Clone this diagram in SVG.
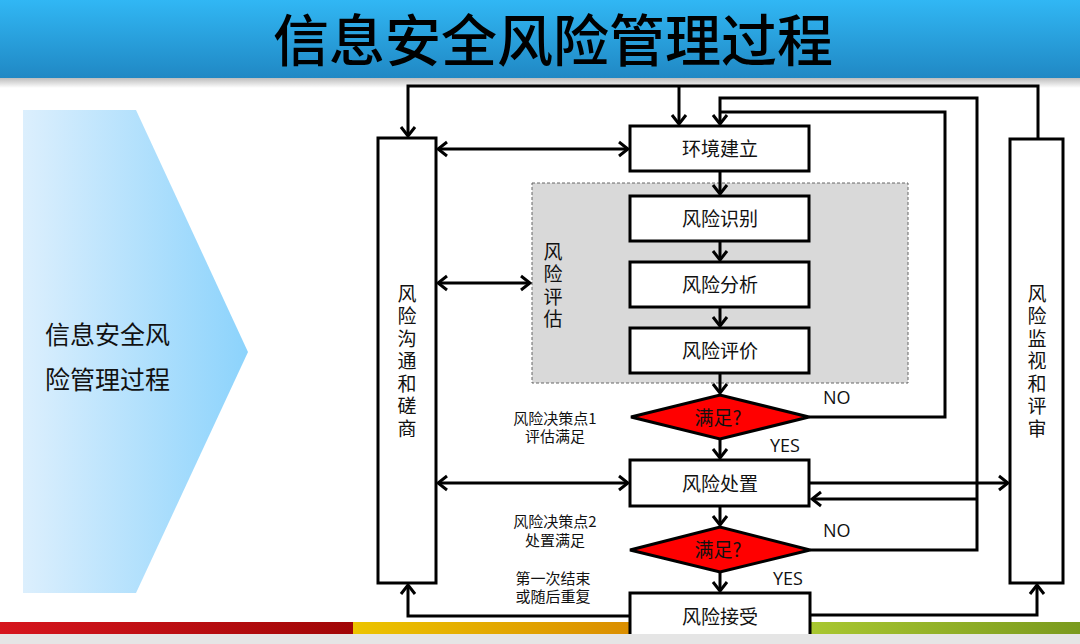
<svg xmlns="http://www.w3.org/2000/svg" width="1080" height="644" viewBox="0 0 1080 644">
<defs>
<linearGradient id="gTitle" x1="0" y1="0" x2="0" y2="1"><stop offset="0" stop-color="#31b7f4"/><stop offset="1" stop-color="#2088c4"/></linearGradient>
<linearGradient id="gShadow" x1="0" y1="0" x2="0" y2="1"><stop offset="0" stop-color="#bdbdbd"/><stop offset="1" stop-color="#ffffff"/></linearGradient>
<linearGradient id="gChev" x1="0" y1="0" x2="1" y2="0"><stop offset="0" stop-color="#dceffd"/><stop offset="1" stop-color="#8cd3fc"/></linearGradient>
<linearGradient id="gRed" x1="0" y1="0" x2="1" y2="0"><stop offset="0" stop-color="#d6151d"/><stop offset="1" stop-color="#a00606"/></linearGradient>
<linearGradient id="gOrange" x1="0" y1="0" x2="1" y2="0"><stop offset="0" stop-color="#ecc400"/><stop offset="1" stop-color="#d47c00"/></linearGradient>
<linearGradient id="gGreen" x1="0" y1="0" x2="1" y2="0"><stop offset="0" stop-color="#b8d636"/><stop offset="1" stop-color="#7a9a1e"/></linearGradient>
<marker id="arr" viewBox="-12 -9 14 18" refX="0" refY="0" markerWidth="14" markerHeight="18" markerUnits="userSpaceOnUse" orient="auto-start-reverse">
<path d="M-9,-7 L0,0 L-9,7" fill="none" stroke="#000" stroke-width="3" stroke-linejoin="miter"/>
</marker>
<style>
.box{fill:#fff;stroke:#000;stroke-width:3}
.dia{fill:#ff0000;stroke:#000;stroke-width:3}
.c{fill:none;stroke:#000;stroke-width:3}
.a{fill:none;stroke:#000;stroke-width:3;marker-end:url(#arr)}
.aa{fill:none;stroke:#000;stroke-width:3;marker-end:url(#arr);marker-start:url(#arr)}
.t{font-family:"Noto Sans CJK SC","Noto Sans",sans-serif;fill:#111}
.lbl{font-size:19px;text-anchor:middle}
.v{font-size:19px;writing-mode:vertical-rl;text-orientation:upright;letter-spacing:3.5px}
.s{font-size:15px;text-anchor:middle}
.en{font-family:"Open Sans","Noto Sans",sans-serif;font-size:18px;fill:#111}
</style>
</defs>
<rect width="1080" height="644" fill="#fff"/>
<!-- title -->
<rect x="0" y="78" width="1080" height="10" fill="url(#gShadow)"/>
<rect x="0" y="0" width="1080" height="78" fill="url(#gTitle)"/>
<text x="553" y="61" text-anchor="middle" font-family="Noto Sans CJK SC, sans-serif" font-size="56" font-weight="500" fill="#000">信息安全风险管理过程</text>
<!-- left chevron -->
<g id="chevron">
<polygon points="23,110 136,110 248,352 136,593 23,593" fill="url(#gChev)"/>
<text class="t" x="45" y="344" font-size="25">信息安全风</text>
<text class="t" x="45" y="389" font-size="25">险管理过程</text>
</g>
<!-- footer bars -->
<rect x="0" y="622" width="353" height="12" fill="url(#gRed)"/>
<rect x="353" y="622" width="367" height="12" fill="url(#gOrange)"/>
<rect x="720" y="622" width="360" height="12" fill="url(#gGreen)"/>
<!-- risk assessment group -->
<g id="assess">
<rect x="532" y="183" width="376" height="200" fill="#d9d9d9" stroke="#666" stroke-width="1" stroke-dasharray="3,2"/>
<text class="t v" x="553" y="242">风险评估</text>
</g>
<g id="communicate">
<rect class="box" x="378" y="138" width="58" height="445"/>
<text class="t v" x="407" y="284">风险沟通和磋商</text>
</g>
<g id="monitor">
<rect class="box" x="1010" y="139" width="53" height="444"/>
<text class="t v" x="1037" y="284">风险监视和评审</text>
</g>
<g id="context"><rect class="box" x="630" y="126" width="179" height="45"/><text class="t lbl" x="720" y="156">环境建立</text></g>
<g id="identify"><rect class="box" x="630" y="196" width="179" height="45"/><text class="t lbl" x="720" y="226">风险识别</text></g>
<g id="analyze"><rect class="box" x="630" y="262" width="179" height="45"/><text class="t lbl" x="720" y="292">风险分析</text></g>
<g id="evaluate"><rect class="box" x="630" y="328" width="179" height="45"/><text class="t lbl" x="720" y="358">风险评价</text></g>
<g id="decision1"><polygon class="dia" points="631,417 720,395 809,417 720,439"/><text class="t lbl" x="718" y="425" font-size="18">满足?</text></g>
<g id="treat"><rect class="box" x="630" y="460" width="179" height="46"/><text class="t lbl" x="720" y="491">风险处置</text></g>
<g id="decision2"><polygon class="dia" points="630,550 720,527 810,550 720,572"/><text class="t lbl" x="718" y="557" font-size="18">满足?</text></g>
<g id="accept"><rect class="box" x="630" y="593" width="180" height="60"/><text class="t lbl" x="720" y="624">风险接受</text></g>
<!-- labels -->
<g id="labels">
<text class="t s" x="555" y="423.5">风险决策点1</text>
<text class="t s" x="555" y="442">评估满足</text>
<text class="t s" x="555" y="527">风险决策点2</text>
<text class="t s" x="555" y="545.5">处置满足</text>
<text class="t s" x="553" y="583.5">第一次结束</text>
<text class="t s" x="553" y="602">或随后重复</text>
<text class="en" x="823" y="404">NO</text>
<text class="en" x="770" y="452">YES</text>
<text class="en" x="823" y="537">NO</text>
<text class="en" x="773" y="585">YES</text>
</g>
<!-- connectors -->
<g id="connectors">
<path class="a" d="M1038,139 V86 H408 V136"/>
<path class="a" d="M679,86 V124"/>
<path class="a" d="M810,550 H977 V98 H720 V124"/>
<path class="c" d="M809,417 H945 V112 H720"/>
<path class="a" d="M977,499 H812"/>
<path class="a" d="M720,171 V194"/>
<path class="a" d="M720,241 V260"/>
<path class="a" d="M720,307 V326"/>
<path class="a" d="M720,373 V393"/>
<path class="a" d="M720,439 V458"/>
<path class="a" d="M720,506 V525"/>
<path class="a" d="M720,572 V591"/>
<path class="aa" d="M438,149 H628"/>
<path class="aa" d="M438,283 H530"/>
<path class="aa" d="M438,483 H628"/>
<path class="a" d="M810,483 H1008"/>
<path class="a" d="M630,616 H408 V585"/>
<path class="a" d="M810,615 H1037 V585"/>
</g>
<rect x="0" y="634" width="1080" height="10" fill="#e5e5e5"/>
</svg>
